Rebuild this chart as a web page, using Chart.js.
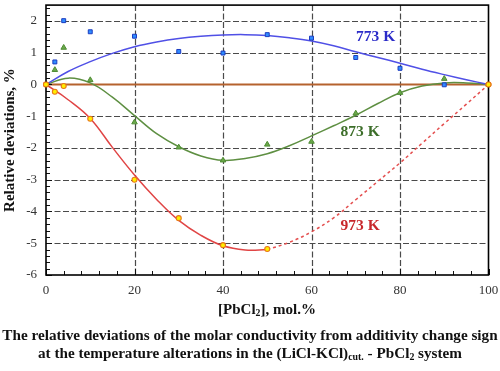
<!DOCTYPE html>
<html><head><meta charset="utf-8">
<script src="https://cdn.jsdelivr.net/npm/chart.js@4"></script>
<style>
html,body{margin:0;padding:0;background:#fff;}
#wrap{position:relative;width:500px;height:371px;overflow:hidden;font-family:"Liberation Serif","Times New Roman",serif;}
#c{position:absolute;left:0;top:0;}
.t{position:absolute;font-weight:bold;white-space:nowrap;color:#111;text-align:center;}
#xt{left:167px;width:200px;top:299px;font-size:15px;line-height:20px;}
#cap1{left:0;width:500px;top:325px;font-size:15.2px;line-height:20px;}
#cap2{left:0;width:500px;top:343px;font-size:15.2px;line-height:20px;}
sub{font-size:0.65em;vertical-align:-0.25em;line-height:0;}
</style></head>
<body><div id="wrap">
<canvas id="c" width="500" height="300"></canvas>
<div class="t" id="xt">[PbCl<sub>2</sub>], mol.%</div>
<div class="t" id="cap1">The relative deviations of the molar conductivity from additivity change sign</div>
<div class="t" id="cap2">at the temperature alterations in the (LiCl-KCl)<sub>cut.</sub> - PbCl<sub>2</sub> system</div>
</div>
<script>
// measured points
const xPoints = [0,2,4,10,20,30,40,50,60,70,80,90,100];
const pts773 = [0,0.71,2.01,1.66,1.52,1.04,0.99,1.57,1.46,0.85,0.51,-0.01,0];
const pts873 = [0,0.46,1.16,0.14,-1.19,-1.98,-2.39,-1.89,-1.8,-0.91,-0.26,0.18,0];
const pts973 = [0,-0.23,-0.05,-1.08,-3.0,-4.21,-5.06,-5.18,null,null,null,null,0];
// fitted curves
const fitX = [0,5,10,15,20,25,30,35,40,45,50,55,60,65,70,75,80,85,90,95,100];
const fit773 = [0,0.41,0.72,0.98,1.19,1.34,1.45,1.52,1.56,1.57,1.54,1.47,1.37,1.22,1.03,0.85,0.67,0.48,0.31,0.15,0];
const fit873 = [0,0.2,0.05,-0.4,-0.98,-1.55,-1.96,-2.25,-2.39,-2.33,-2.18,-1.93,-1.62,-1.3,-0.97,-0.6,-0.26,-0.05,0.05,0.05,0];
const fit973solidX = [0,5,10,15,20,25,30,35,40,45,50];
const fit973solid = [0,-0.48,-1.07,-1.98,-2.85,-3.62,-4.28,-4.75,-5.08,-5.21,-5.2];
const fit973dashX = [50,55,60,65,70,75,80,85,90,95,100];
const fit973dash = [-5.2,-4.97,-4.64,-4.2,-3.63,-3.05,-2.47,-1.85,-1.23,-0.62,0];
const zeroX = [0,100];
const zeroY = [0,0];
// tick labels
const xTicks = [0,20,40,60,80,100];
const yTicks = [-6,-5,-4,-3,-2,-1,0,1,2];
// curve labels
const labelText = ['773 K','873 K','973 K'];
const labelX = [74.5,71,71];
const labelY = [1.5,-1.5,-4.47];
const labelColor = ['#2b2bc8','#3d6e2a','#c8282c'];

const zip = (xs, ys) => xs.map((x,i)=>({x:x,y:ys[i]})).filter(p=>p.y!==null);

const FONT = '"Liberation Serif","Times New Roman",serif';

const decor = {
  id:'decor',
  beforeDatasetsDraw(chart){
    const ctx = chart.ctx, a = chart.chartArea, xs = chart.scales.x, ys = chart.scales.y;
    ctx.save();
    ctx.strokeStyle = '#4a4a4a'; ctx.lineWidth = 1.2; ctx.setLineDash([6,2.5]);
    xTicks.forEach(v=>{ if(v<=0||v>=100) return; const p = Math.round(xs.getPixelForValue(v))+0.5;
      ctx.beginPath(); ctx.moveTo(p,a.top); ctx.lineTo(p,a.bottom); ctx.stroke(); });
    yTicks.forEach(v=>{ if(v<=-6||v===0) return; const p = Math.round(ys.getPixelForValue(v))+0.5;
      ctx.beginPath(); ctx.moveTo(a.left,p); ctx.lineTo(a.right,p); ctx.stroke(); });
    ctx.restore();
  },
  afterDatasetsDraw(chart){
    const ctx = chart.ctx, a = chart.chartArea, xs = chart.scales.x, ys = chart.scales.y;
    ctx.save();
    ctx.strokeStyle = '#111'; ctx.lineWidth = 1;
    for(let i=0;i<=25;i++){ const v=i*4; const p=Math.round(xs.getPixelForValue(v))+0.5;
      const len = (v%20===0)?6:4; ctx.beginPath(); ctx.moveTo(p,a.bottom); ctx.lineTo(p,a.bottom-len); ctx.stroke(); }
    for(let i=-30;i<=12;i++){ const v=i*0.2; const p=Math.round(ys.getPixelForValue(v))+0.5;
      const len = (i%5===0)?6:4; ctx.beginPath(); ctx.moveTo(a.left,p); ctx.lineTo(a.left+len,p); ctx.stroke(); }
    ctx.lineWidth = 1.6; ctx.strokeStyle = '#000';
    ctx.strokeRect(a.left, a.top, a.right-a.left, a.bottom-a.top);
    ctx.font = 'bold 15.5px '+FONT; ctx.textAlign='center'; ctx.textBaseline='middle';
    labelText.forEach((t,i)=>{ ctx.fillStyle = labelColor[i];
      ctx.fillText(t, xs.getPixelForValue(labelX[i]), ys.getPixelForValue(labelY[i])); });
    const meta = chart.getDatasetMeta(0);
    meta.data.forEach((el,i)=>{ const d = chart.data.datasets[0].data[i];
      if(d.x===0||d.x===100){ ctx.beginPath(); ctx.arc(el.x, el.y, 2.5, 0, Math.PI*2);
        ctx.fillStyle='#ffee00'; ctx.fill(); ctx.lineWidth=1.1; ctx.strokeStyle='#e8781a'; ctx.stroke(); } });
    ctx.restore();
  }
};

new Chart(document.getElementById('c'), {
  type:'scatter',
  data:{ datasets:[
    {data:zip(xPoints,pts973), pointStyle:'circle', pointRadius:2.5, backgroundColor:'#ffee00', borderColor:'#e8781a', borderWidth:1.1, showLine:false, clip:false},
    {data:zip(xPoints,pts773), pointStyle:'rect', pointRadius:2.8, backgroundColor:'#2f8cff', borderColor:'#1c3cc0', borderWidth:1, showLine:false},
    {data:zip(xPoints,pts873), pointStyle:'triangle', pointRadius:3.2, backgroundColor:'#6aa84a', borderColor:'#4f8c34', borderWidth:1, showLine:false},
    {data:zip(fitX,fit773), showLine:true, pointRadius:0, borderColor:'#5050e6', borderWidth:1.5, tension:0.4},
    {data:zip(fitX,fit873), showLine:true, pointRadius:0, borderColor:'#5e8f42', borderWidth:1.5, tension:0.4},
    {data:zip(fit973solidX,fit973solid), showLine:true, pointRadius:0, borderColor:'#e04545', borderWidth:1.5, tension:0.4},
    {data:zip(fit973dashX,fit973dash), showLine:true, pointRadius:0, borderColor:'#e45050', borderWidth:1.5, borderDash:[3,3], tension:0.4},
    {data:zip(zeroX,zeroY), showLine:true, pointRadius:0, borderColor:'#b5622e', borderWidth:2}
  ]},
  options:{
    responsive:false, animation:false, devicePixelRatio:1,
    layout:{padding:{left:0,right:11.5,top:1,bottom:0}},
    plugins:{legend:{display:false}, tooltip:{enabled:false}},
    scales:{
      x:{type:'linear', min:0, max:100,
        afterFit(s){ s.height = 25; s.paddingLeft = 0; s.paddingRight = 0; },
        afterBuildTicks(s){ s.ticks = xTicks.map(v=>({value:v})); },
        grid:{display:false, drawTicks:false},
        border:{display:false},
        ticks:{padding:8, color:'#333', font:{family:FONT, size:13}, maxRotation:0}
      },
      y:{type:'linear', min:-6, max:2.5,
        afterFit(s){ s.width = 46; s.paddingTop = 0; s.paddingBottom = 0; },
        afterBuildTicks(s){ s.ticks = yTicks.map(v=>({value:v})); },
        grid:{display:false, drawTicks:false},
        border:{display:false},
        ticks:{padding:9, color:'#333', font:{family:FONT, size:13}},
        title:{display:true, text:'Relative deviations, %', color:'#111', font:{family:FONT, size:15, weight:'bold'}, padding:{top:1,bottom:0}}
      }
    }
  },
  plugins:[decor]
});
</script>
</body></html>
